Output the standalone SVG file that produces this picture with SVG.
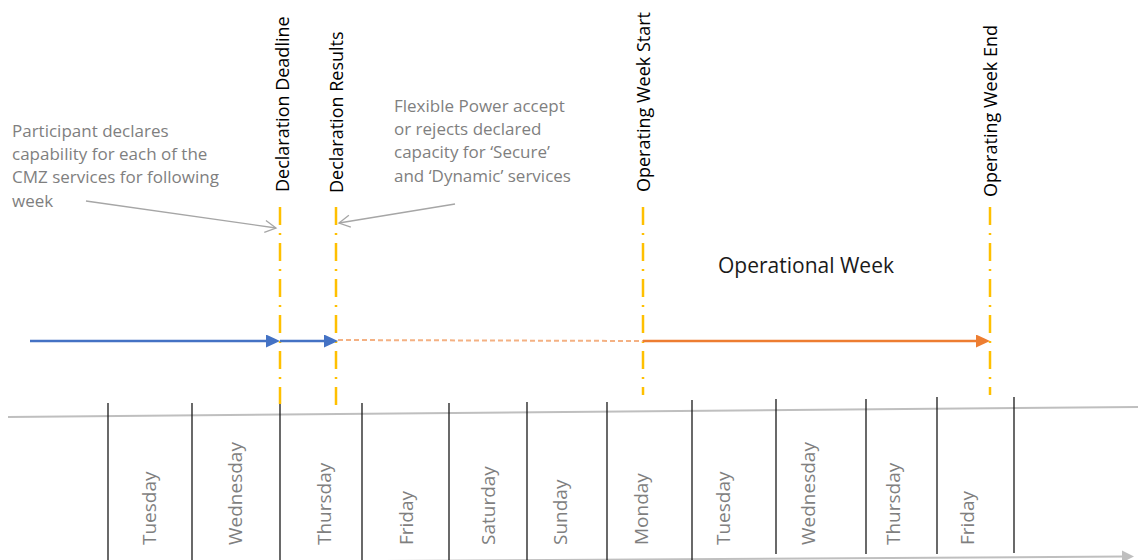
<svg xmlns="http://www.w3.org/2000/svg" width="1138" height="560" viewBox="0 0 1138 560">
<style>
  text { font-family: "Open Sans", "Liberation Sans", sans-serif; }
  .note { font-size: 17px; fill: #7f7f7f; }
  .mile { font-size: 18px; fill: #000000; }
  .day { font-size: 19px; fill: #7f7f7f; }
  .title { font-size: 21px; fill: #1a1a1a; }
  .ms { stroke: #FFC000; stroke-width: 2.5; stroke-dasharray: 18 8 2 8; fill: none; }
  .sep { stroke: #1a1a1a; stroke-width: 1.3; }
  .ann { stroke: #a6a6a6; stroke-width: 1.3; fill: none; }
</style>
<defs>
  <marker id="blueHead" markerUnits="userSpaceOnUse" markerWidth="14" markerHeight="13" refX="2" refY="6.5" orient="auto">
    <path d="M0,0 L14,6.5 L0,13 z" fill="#4472C4"/>
  </marker>
  <marker id="orangeHead" markerUnits="userSpaceOnUse" markerWidth="14" markerHeight="13" refX="2" refY="6.5" orient="auto">
    <path d="M0,0 L14,6.5 L0,13 z" fill="#ED7D31"/>
  </marker>
  <marker id="grayHead" markerUnits="userSpaceOnUse" markerWidth="12" markerHeight="12" refX="2" refY="6" orient="auto">
    <path d="M0,0 L12,6 L0,12 z" fill="#bfbfbf"/>
  </marker>
  <marker id="openHead" markerUnits="userSpaceOnUse" markerWidth="14" markerHeight="14" refX="12" refY="7" orient="auto">
    <path d="M1,1 L12,7 L1,13" fill="none" stroke="#a6a6a6" stroke-width="1.3"/>
  </marker>
</defs>

<g id="timeline-axis">
  <line x1="8" y1="417" x2="1138" y2="407" stroke="#bfbfbf" stroke-width="2"/>
  <line x1="300" y1="561.5" x2="1124" y2="556.5" stroke="#bfbfbf" stroke-width="2" marker-end="url(#grayHead)"/>
</g>

<g id="day-separators">
  <line class="sep" x1="108" y1="403" x2="108" y2="560"/>
  <line class="sep" x1="192" y1="403" x2="192" y2="560"/>
  <line class="sep" x1="280" y1="403" x2="280" y2="560"/>
  <line class="sep" x1="362" y1="403" x2="362" y2="560"/>
  <line class="sep" x1="449" y1="403" x2="449" y2="560"/>
  <line class="sep" x1="527" y1="402" x2="527" y2="560"/>
  <line class="sep" x1="607" y1="402" x2="607" y2="560"/>
  <line class="sep" x1="692" y1="400" x2="692" y2="560"/>
  <line class="sep" x1="776" y1="399" x2="776" y2="554"/>
  <line class="sep" x1="866" y1="399" x2="866" y2="554"/>
  <line class="sep" x1="937" y1="397" x2="937" y2="554"/>
  <line class="sep" x1="1014" y1="397" x2="1014" y2="553"/>
</g>

<g id="days">
  <text class="day" transform="translate(156,545) rotate(-90)">Tuesday</text>
  <text class="day" transform="translate(242,545) rotate(-90)">Wednesday</text>
  <text class="day" transform="translate(331,545) rotate(-90)">Thursday</text>
  <text class="day" transform="translate(413,545) rotate(-90)">Friday</text>
  <text class="day" transform="translate(495,545) rotate(-90)">Saturday</text>
  <text class="day" transform="translate(567,545) rotate(-90)">Sunday</text>
  <text class="day" transform="translate(648,545) rotate(-90)">Monday</text>
  <text class="day" transform="translate(730,545) rotate(-90)">Tuesday</text>
  <text class="day" transform="translate(815,545) rotate(-90)">Wednesday</text>
  <text class="day" transform="translate(900,545) rotate(-90)">Thursday</text>
  <text class="day" transform="translate(974,545) rotate(-90)">Friday</text>
</g>

<g id="declaration-deadline">
  <line class="ms" x1="280" y1="207" x2="280" y2="404"/>
  <text class="mile" transform="translate(289,192) rotate(-90)">Declaration Deadline</text>
</g>
<g id="declaration-results">
  <line class="ms" x1="336" y1="207" x2="336" y2="405"/>
  <text class="mile" transform="translate(343,193) rotate(-90)">Declaration Results</text>
</g>
<g id="operating-week-start">
  <line class="ms" x1="643" y1="207" x2="643" y2="395"/>
  <text class="mile" transform="translate(650,192) rotate(-90)">Operating Week Start</text>
</g>
<g id="operating-week-end">
  <line class="ms" x1="990" y1="207" x2="990" y2="395"/>
  <text class="mile" transform="translate(997,197) rotate(-90)">Operating Week End</text>
</g>

<g id="participant-note">
  <text class="note" x="12" y="137">Participant declares</text>
  <text class="note" x="12" y="160">capability for each of the</text>
  <text class="note" x="12" y="183">CMZ services for following</text>
  <text class="note" x="12" y="207">week</text>
</g>
<g id="flexible-power-note">
  <text class="note" x="394" y="112">Flexible Power accept</text>
  <text class="note" x="394" y="135">or rejects declared</text>
  <text class="note" x="394" y="158">capacity for ‘Secure’</text>
  <text class="note" x="394" y="182">and ‘Dynamic’ services</text>
</g>
<g id="operational-week">
  <text class="title" x="718" y="273">Operational Week</text>
</g>

<g id="connectors">
  <line class="ann" x1="86" y1="201" x2="276" y2="228" marker-end="url(#openHead)"/>
  <line class="ann" x1="455" y1="204" x2="339" y2="223" marker-end="url(#openHead)"/>
  <line x1="30" y1="341" x2="268" y2="341" stroke="#4472C4" stroke-width="2.5" marker-end="url(#blueHead)"/>
  <line x1="280" y1="341" x2="326" y2="341" stroke="#4472C4" stroke-width="2.5" marker-end="url(#blueHead)"/>
  <line x1="338" y1="340" x2="643" y2="341" stroke="#F4B183" stroke-width="2" stroke-dasharray="5 3"/>
  <line x1="643" y1="341" x2="978" y2="341" stroke="#ED7D31" stroke-width="2.5" marker-end="url(#orangeHead)"/>
</g>
</svg>
